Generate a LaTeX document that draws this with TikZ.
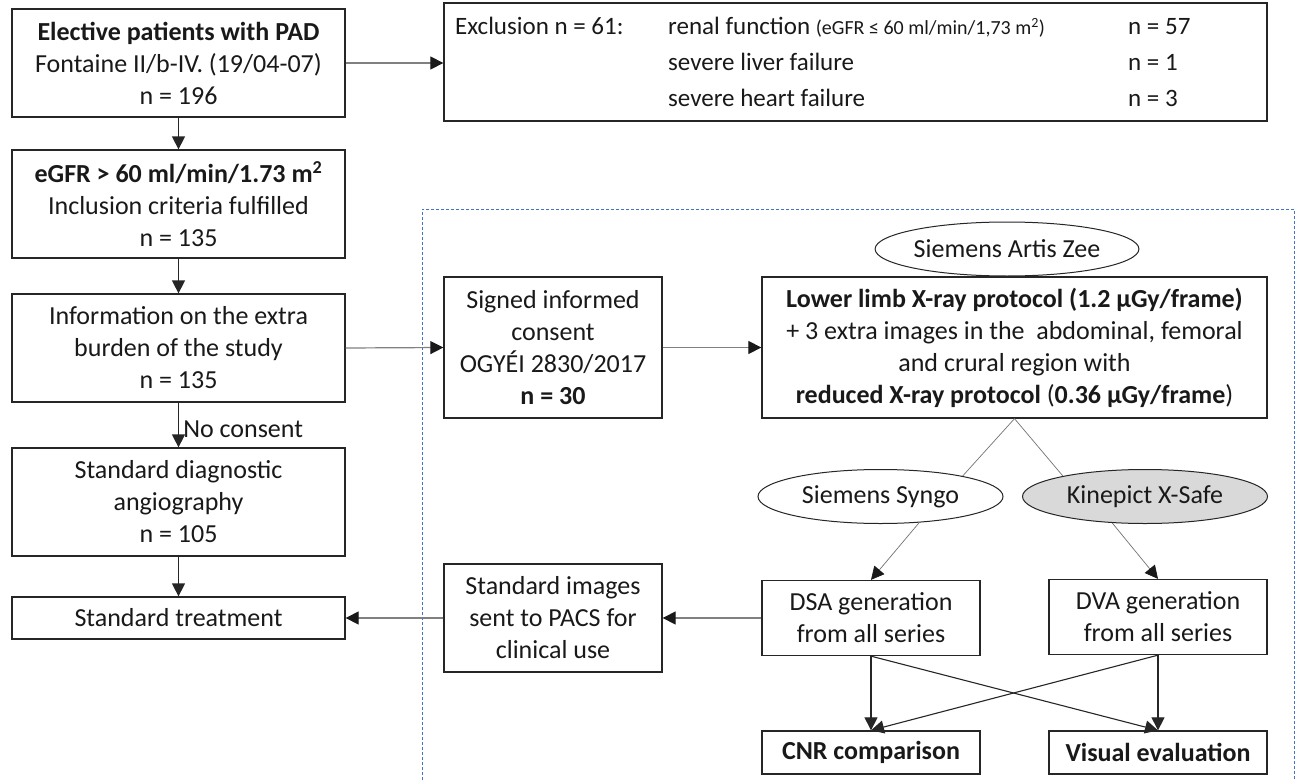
\documentclass[tikz,border=0pt]{standalone}
\usepackage{fontspec}
\setmainfont{Carlito}
\usetikzlibrary{shapes.geometric,arrows.meta}
\definecolor{dashblue}{RGB}{68,114,196}
\definecolor{ellgray}{RGB}{217,217,217}
\begin{document}
\begin{tikzpicture}[x=1pt,y=-1pt,
  every node/.style={font=\fontsize{26}{32}\selectfont, inner sep=0pt, text=black!90},
  box/.style={draw=black!85, line width=1.3pt, rectangle, align=center},
  ell/.style={ellipse, draw=black!85, line width=1pt, minimum width=245, minimum height=54},
  arr/.style={draw=black!85, line width=1.5pt, -{Triangle[length=13pt,width=13pt]}},
  darr/.style={draw=black!85, line width=1.1pt, -{Triangle[length=13pt,width=13pt]}},
  garr/.style={draw=black!50, line width=1.2pt, -{Triangle[length=13pt,width=13pt,color=black!90]}},
  tarr/.style={draw=black!55, line width=0.7pt, -{Triangle[length=13pt,width=13pt,color=black!90]}},
  tline/.style={draw=black!55, line width=0.7pt},
  extext/.style={anchor=base west, font=\fontsize{25}{30}\selectfont}
]
\useasboundingbox (0,0) rectangle (1298,781);
\fill[white] (0,0) rectangle (1298,781);

% dashed frame
\draw[dashblue, line width=1pt, dash pattern=on 3pt off 2pt] (422,790) -- (422,209) -- (1294,209) -- (1294,790);

% left column
\node[box, minimum width=333, minimum height=108] (e1) at (178.5,63)
  {\textbf{Elective patients with PAD}\\Fontaine II/b-IV. (19/04-07)\\n = 196};
\node[box, minimum width=333, minimum height=108] (e2) at (178.5,204)
  {\textbf{eGFR > 60 ml/min/1.73 m\textsuperscript{2}}\\Inclusion criteria fulfilled\\n = 135};
\node[box, minimum width=333, minimum height=108] (info) at (178.5,348)
  {Information on the extra\\burden of the study\\n = 135};
\node[box, minimum width=333, minimum height=108] (std) at (178.5,502)
  {Standard diagnostic\\angiography\\n = 105};
\node[box, minimum width=333, minimum height=42] (treat) at (178.5,618)
  {Standard treatment};

% exclusion box
\node[box, minimum width=823, minimum height=118] (excl) at (855.5,62) {};
\node[extext] (x1) at (455,35) {Exclusion n = 61:};
\node[extext] (x2) at (668,35) {renal function {\fontsize{20}{24}\selectfont(eGFR ≤ 60 ml/min/1,73 m\textsuperscript{2})}};
\node[extext] (x3) at (1128,35) {n = 57};
\node[extext] (x4) at (668,71) {severe liver failure};
\node[extext] (x5) at (1128,71) {n = 1};
\node[extext] (x6) at (668,107) {severe heart failure};
\node[extext] (x7) at (1128,107) {n = 3};

% right part
\node[box, minimum width=218, minimum height=141] (signed) at (553,347.5)
  {Signed informed\\consent\\OGYÉI 2830/2017\\\textbf{n = 30}};
\node[box, minimum width=505, minimum height=141] (limb) at (1014.5,347.5)
  {\textbf{Lower limb X-ray protocol (1.2 µGy/frame)}\\+ 3 extra images in the\ \ abdominal, femoral\\and crural region with\\\textbf{reduced X-ray protocol} (\textbf{0.36 µGy/frame})};
\node[ell] (artis) at (1007,249) {Siemens Artis Zee};
\node[ell] (syngo) at (880.5,496.5) {Siemens Syngo};
\node[ell, fill=ellgray] (kine) at (1145,496.5) {Kinepict X-Safe};
\node[box, minimum width=218, minimum height=75] (dsa) at (871,618)
  {DSA generation\\from all series};
\node[box, minimum width=218, minimum height=75] (dva) at (1158,617)
  {DVA generation\\from all series};
\node[box, minimum width=218, minimum height=108] (pacs) at (553,618)
  {Standard images\\sent to PACS for\\clinical use};
\node[box, minimum width=218, minimum height=43] (cnr) at (871,752.5)
  {\textbf{CNR comparison}};
\node[box, minimum width=218, minimum height=43] (vis) at (1158,752.5)
  {\textbf{Visual evaluation}};

% connectors
\draw[arr] (e1) -- (e2);
\draw[arr] (e2) -- (info);
\draw[arr] (info) -- node[right, xshift=4pt, yshift=-4pt] (nc) {No consent} (std);
\draw[arr] (std) -- (treat);
\draw[garr] (e1.east) -- (excl.west |- e1.east);
\draw[garr] (info.east) -- (signed.west);
\draw[garr] (signed.east) -- (limb.west);
\draw[garr] (dsa.west) -- (pacs.east);
\draw[garr] (pacs.west) -- (treat.east);
\draw[tline] (limb.south) -- (syngo.14);
\draw[tline] (limb.south) -- (kine.166);
\draw[tarr] (syngo.326) -- (dsa.north);
\draw[tarr] (kine.219) -- (dva.north);
\draw[darr] (dsa.south) -- (cnr.north);
\draw[darr] (dsa.south) -- (vis.north);
\draw[darr] (dva.south) -- (cnr.north);
\draw[darr] (dva.south) -- (vis.north);
\end{tikzpicture}
\end{document}
